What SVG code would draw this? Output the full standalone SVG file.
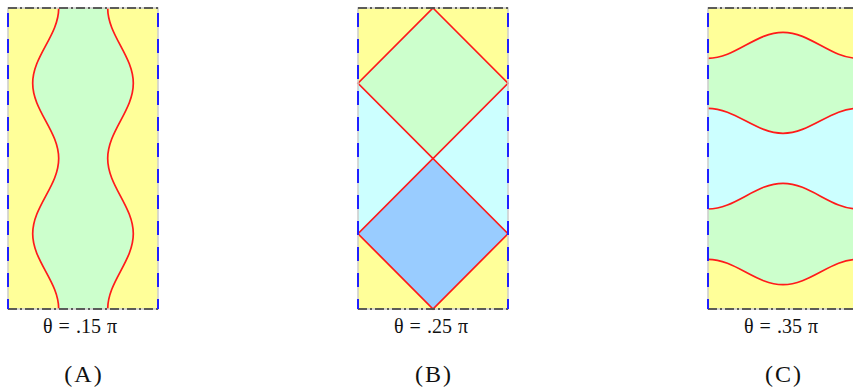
<svg xmlns="http://www.w3.org/2000/svg" width="853" height="390" viewBox="0 0 853 390">
<style>
.yel{fill:#FFFF99}
.grn{fill:#CCFFCC}
.cyn{fill:#CCFFFF}
.blu{fill:#99CCFF}
.red{fill:none;stroke:#FF1A1A;stroke-width:1.7}
.frame{fill:none;stroke:#CCCCCC;stroke-width:1.5}
.hb{stroke:#333333;stroke-width:1.6;stroke-dasharray:9 3 2 3}
.vb{stroke:#2020FF;stroke-width:2;stroke-dasharray:14 12;stroke-dashoffset:-5}
.lab{font-family:"Liberation Serif","DejaVu Serif",serif;font-size:20px;fill:#111;text-anchor:middle;word-spacing:1px}
.cap{font-family:"Liberation Serif","DejaVu Serif",serif;font-size:24px;fill:#111;text-anchor:middle;letter-spacing:2px}
</style>
<defs>
<clipPath id="clipC"><rect x="708" y="8" width="150" height="301"/></clipPath>
</defs>

<g id="panelA">
<rect class="yel" x="8" y="8" width="150" height="301"/>
<path class="grn" d="M58.7,8 C58.7,35.35 32.7,55.9 32.7,83.25 C32.7,110.6 58.7,131.15 58.7,158.5 C58.7,185.85 32.7,206.4 32.7,233.75 C32.7,261.1 58.7,281.65 58.7,309 L107.7,309 C107.7,281.65 133.3,261.1 133.3,233.75 C133.3,206.4 107.7,185.85 107.7,158.5 C107.7,131.15 133.3,110.6 133.3,83.25 C133.3,55.9 107.7,35.35 107.7,8 Z"/>
<path class="red" d="M58.7,8 C58.7,35.35 32.7,55.9 32.7,83.25 C32.7,110.6 58.7,131.15 58.7,158.5 C58.7,185.85 32.7,206.4 32.7,233.75 C32.7,261.1 58.7,281.65 58.7,309"/>
<path class="red" d="M107.7,8 C107.7,35.35 133.3,55.9 133.3,83.25 C133.3,110.6 107.7,131.15 107.7,158.5 C107.7,185.85 133.3,206.4 133.3,233.75 C133.3,261.1 107.7,281.65 107.7,309"/>
<rect class="frame" x="8" y="8" width="150" height="301"/>
<line class="hb" x1="8" y1="8" x2="158" y2="8"/>
<line class="hb" x1="8" y1="309" x2="158" y2="309"/>
<line class="vb" x1="8" y1="8" x2="8" y2="309"/>
<line class="vb" x1="158" y1="8" x2="158" y2="309"/>
<text class="lab" x="80" y="333">θ = .15 π</text>
<text class="cap" x="84" y="382">(A)</text>
</g>

<g id="panelB">
<rect class="yel" x="358" y="8" width="150" height="301"/>
<rect class="cyn" x="358" y="83.25" width="150" height="150.5"/>
<polygon class="grn" points="433,8 508,83.25 433,158.5 358,83.25"/>
<polygon class="blu" points="433,158.5 508,233.75 433,309 358,233.75"/>
<polygon class="red" points="433,8 508,83.25 433,158.5 358,83.25"/>
<polygon class="red" points="433,158.5 508,233.75 433,309 358,233.75"/>
<rect class="frame" x="358" y="8" width="150" height="301"/>
<line class="hb" x1="358" y1="8" x2="508" y2="8"/>
<line class="hb" x1="358" y1="309" x2="508" y2="309"/>
<line class="vb" x1="358" y1="8" x2="358" y2="309"/>
<line class="vb" x1="508" y1="8" x2="508" y2="309"/>
<text class="lab" x="431" y="333">θ = .25 π</text>
<text class="cap" x="434" y="382">(B)</text>
</g>

<g id="panelC">
<rect class="yel" x="708" y="8" width="150" height="301"/>
<g clip-path="url(#clipC)">
<path class="grn" d="M708,58.3 C735.3,58.3 755.7,32.3 783,32.3 C810.3,32.3 830.7,58.3 858,58.3 L858,259.3 C830.7,259.3 810.3,284.7 783,284.7 C755.7,284.7 735.3,259.3 708,259.3 Z"/>
<path class="cyn" d="M708,108.3 C735.3,108.3 755.7,133.3 783,133.3 C810.3,133.3 830.7,108.3 858,108.3 L858,209 C830.7,209 810.3,183.3 783,183.3 C755.7,183.3 735.3,209 708,209 Z"/>
<path class="red" d="M708,58.3 C735.3,58.3 755.7,32.3 783,32.3 C810.3,32.3 830.7,58.3 858,58.3"/>
<path class="red" d="M708,108.3 C735.3,108.3 755.7,133.3 783,133.3 C810.3,133.3 830.7,108.3 858,108.3"/>
<path class="red" d="M708,209 C735.3,209 755.7,183.3 783,183.3 C810.3,183.3 830.7,209 858,209"/>
<path class="red" d="M708,259.3 C735.3,259.3 755.7,284.7 783,284.7 C810.3,284.7 830.7,259.3 858,259.3"/>
</g>
<rect class="frame" x="708" y="8" width="150" height="301"/>
<line class="hb" x1="708" y1="8" x2="858" y2="8"/>
<line class="hb" x1="708" y1="309" x2="858" y2="309"/>
<line class="vb" x1="708" y1="8" x2="708" y2="309"/>
<text class="lab" x="781" y="333">θ = .35 π</text>
<text class="cap" x="784" y="382">(C)</text>
</g>
</svg>
